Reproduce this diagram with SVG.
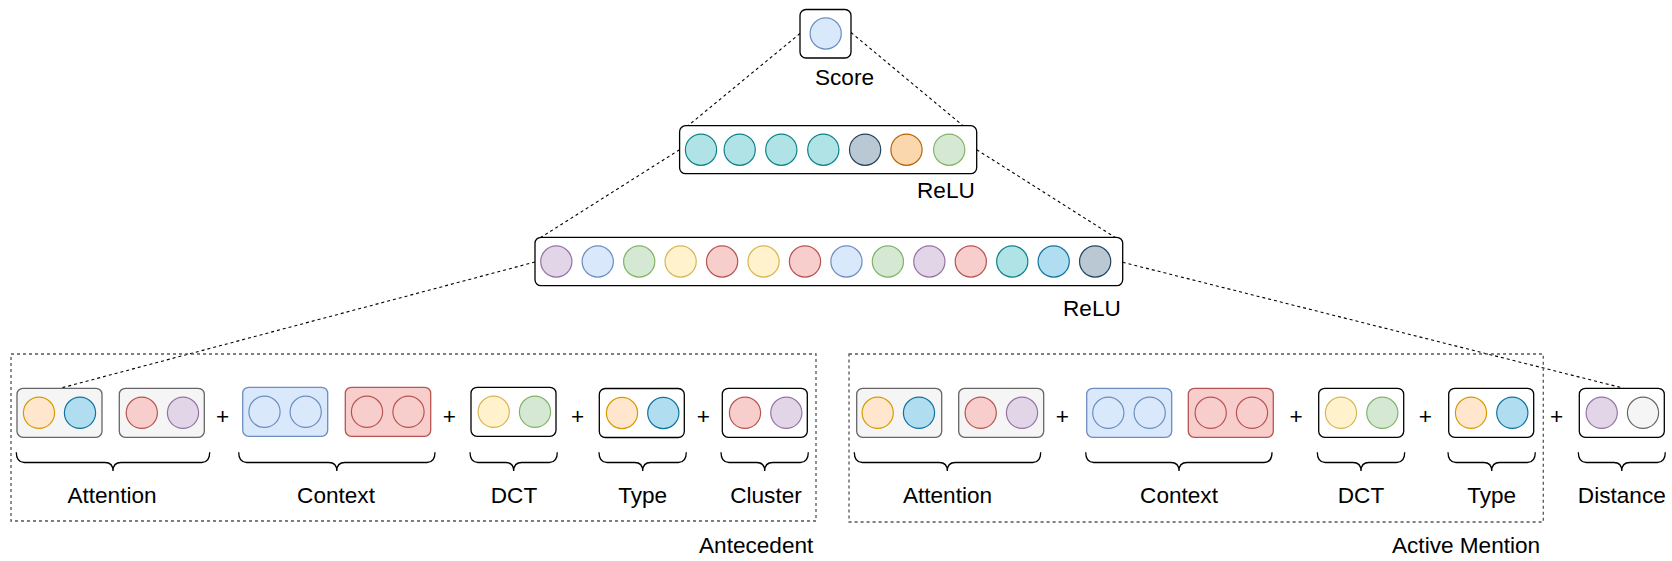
<svg xmlns="http://www.w3.org/2000/svg" width="1672" height="561" viewBox="0 0 1672 561">
<style>
text{font-family:"Liberation Sans",Arial,Helvetica,sans-serif;font-size:22.6px;fill:#000}
.box{fill:#fff;stroke:#000;stroke-width:1.3}
.gbox{fill:#f5f5f5;stroke:#666;stroke-width:1.3}
.bbox{fill:#dae8fc;stroke:#6c8ebf;stroke-width:1.3}
.rbox{fill:#f8cecc;stroke:#b85450;stroke-width:1.3}
.grp{fill:none;stroke:#555;stroke-width:1.3;stroke-dasharray:3 3}
.con{fill:none;stroke:#000;stroke-width:1.1;stroke-dasharray:3 3}
.brace{fill:none;stroke:#000;stroke-width:1.3}
circle{stroke-width:1.2}
.teal{fill:#b0e3e6;stroke:#0e8088}
.slate{fill:#bac8d3;stroke:#23445d}
.orng{fill:#fad7ac;stroke:#b46504}
.lorng{fill:#ffe6cc;stroke:#d79b00}
.grn{fill:#d5e8d4;stroke:#82b366}
.blu{fill:#dae8fc;stroke:#6c8ebf}
.lblu{fill:#b1ddf0;stroke:#10739e}
.ylw{fill:#fff2cc;stroke:#d6b656}
.red{fill:#f8cecc;stroke:#b85450}
.prp{fill:#e1d5e7;stroke:#9673a6}
.gry{fill:#f5f5f5;stroke:#666}
.plus{text-anchor:middle}
.mid{text-anchor:middle}
</style>

<g id="connectors">
<line class="con" x1="800" y1="33.5" x2="688" y2="125.7"/>
<line class="con" x1="851" y1="32.5" x2="963" y2="125.7"/>
<line class="con" x1="679.6" y1="149.7" x2="541" y2="237.3"/>
<line class="con" x1="976.7" y1="149.7" x2="1115" y2="237.3"/>
<line class="con" x1="535" y1="262" x2="60" y2="388.3"/>
<line class="con" x1="1122.7" y1="262.3" x2="1621.7" y2="387.7"/>
</g>

<g id="score">
<rect class="box" x="800" y="9.5" width="51" height="48.5" rx="6"/>
<circle class="blu" cx="825.7" cy="33.5" r="15.6"/>
<text x="815" y="85">Score</text>
</g>

<g id="relu2">
<rect class="box" x="679.6" y="125.7" width="297.1" height="48" rx="6"/>
<circle class="teal" cx="701" cy="149.7" r="15.6"/>
<circle class="teal" cx="739.7" cy="149.7" r="15.6"/>
<circle class="teal" cx="781.3" cy="149.7" r="15.6"/>
<circle class="teal" cx="823.3" cy="149.7" r="15.6"/>
<circle class="slate" cx="865.1" cy="149.7" r="15.6"/>
<circle class="orng" cx="906.5" cy="149.7" r="15.6"/>
<circle class="grn" cx="949.2" cy="149.7" r="15.6"/>
<text x="917" y="198.3">ReLU</text>
</g>

<g id="relu1">
<rect class="box" x="535" y="237.3" width="587.7" height="48.4" rx="6"/>
<circle class="prp" cx="556.3" cy="261.5" r="15.6"/>
<circle class="blu" cx="597.75" cy="261.5" r="15.6"/>
<circle class="grn" cx="639.2" cy="261.5" r="15.6"/>
<circle class="ylw" cx="680.65" cy="261.5" r="15.6"/>
<circle class="red" cx="722.1" cy="261.5" r="15.6"/>
<circle class="ylw" cx="763.55" cy="261.5" r="15.6"/>
<circle class="red" cx="805" cy="261.5" r="15.6"/>
<circle class="blu" cx="846.45" cy="261.5" r="15.6"/>
<circle class="grn" cx="887.9" cy="261.5" r="15.6"/>
<circle class="prp" cx="929.35" cy="261.5" r="15.6"/>
<circle class="red" cx="970.8" cy="261.5" r="15.6"/>
<circle class="teal" cx="1012.25" cy="261.5" r="15.6"/>
<circle class="lblu" cx="1053.7" cy="261.5" r="15.6"/>
<circle class="slate" cx="1095.15" cy="261.5" r="15.6"/>
<text x="1063" y="316">ReLU</text>
</g>

<g id="antecedent">
<rect class="grp" x="11" y="354" width="805" height="167"/>
<text x="699" y="553">Antecedent</text>
</g>

<g id="active-mention">
<rect class="grp" x="849" y="354" width="694.3" height="168"/>
<text x="1392" y="553">Active Mention</text>
</g>

<g id="ant-attention">
<rect class="gbox" x="17" y="388.3" width="85" height="49" rx="6"/>
<circle class="lorng" cx="39" cy="412.8" r="15.6"/>
<circle class="lblu" cx="80" cy="412.8" r="15.6"/>
<rect class="gbox" x="119.3" y="388.3" width="85" height="49" rx="6"/>
<circle class="red" cx="141.8" cy="412.8" r="15.6"/>
<circle class="prp" cx="183" cy="412.8" r="15.6"/>
<path class="brace" d="M16.3,452.3 Q16.3,462.5 24.3,462.5 L105,462.5 Q113,462.5 113,471 Q113,462.5 121,462.5 L201.7,462.5 Q209.7,462.5 209.7,452.3"/>
<text class="mid" x="112" y="503">Attention</text>
</g>
<text class="plus" x="222.7" y="424">+</text>

<g id="ant-context">
<rect class="bbox" x="242.7" y="387.3" width="85" height="49" rx="6"/>
<circle class="blu" cx="264.5" cy="411.8" r="15.6"/>
<circle class="blu" cx="305.7" cy="411.8" r="15.6"/>
<rect class="rbox" x="345.3" y="387.3" width="85.4" height="49" rx="6"/>
<circle class="red" cx="367" cy="411.8" r="15.6"/>
<circle class="red" cx="408.5" cy="411.8" r="15.6"/>
<path class="brace" d="M238.7,452.3 Q238.7,462.5 246.7,462.5 L328.8,462.5 Q336.8,462.5 336.8,471 Q336.8,462.5 344.8,462.5 L427,462.5 Q435,462.5 435,452.3"/>
<text class="mid" x="336" y="503">Context</text>
</g>
<text class="plus" x="449.3" y="424">+</text>

<g id="ant-dct">
<rect class="box" x="471" y="387.3" width="85" height="49" rx="6"/>
<circle class="ylw" cx="493.7" cy="411.8" r="15.6"/>
<circle class="grn" cx="535" cy="411.8" r="15.6"/>
<path class="brace" d="M470,452.3 Q470,462.5 478,462.5 L505.7,462.5 Q513.7,462.5 513.7,471 Q513.7,462.5 521.7,462.5 L549.3,462.5 Q557.3,462.5 557.3,452.3"/>
<text class="mid" x="514" y="503">DCT</text>
</g>
<text class="plus" x="577.7" y="424">+</text>

<g id="ant-type">
<rect class="box" x="599.3" y="388.5" width="85" height="49" rx="6"/>
<circle class="lorng" cx="622" cy="413" r="15.6"/>
<circle class="lblu" cx="663.3" cy="413" r="15.6"/>
<path class="brace" d="M599,452.3 Q599,462.5 607,462.5 L634.7,462.5 Q642.7,462.5 642.7,471 Q642.7,462.5 650.7,462.5 L678.3,462.5 Q686.3,462.5 686.3,452.3"/>
<text class="mid" x="642.7" y="503">Type</text>
</g>
<text class="plus" x="703.3" y="424">+</text>

<g id="ant-cluster">
<rect class="box" x="722.3" y="388.3" width="85" height="49" rx="6"/>
<circle class="red" cx="745" cy="412.8" r="15.6"/>
<circle class="prp" cx="786.3" cy="412.8" r="15.6"/>
<path class="brace" d="M721,452.3 Q721,462.5 729,462.5 L756.7,462.5 Q764.7,462.5 764.7,471 Q764.7,462.5 772.7,462.5 L800.3,462.5 Q808.3,462.5 808.3,452.3"/>
<text class="mid" x="766" y="503">Cluster</text>
</g>

<g id="act-attention">
<rect class="gbox" x="856.7" y="388.3" width="85" height="49" rx="6"/>
<circle class="lorng" cx="877.7" cy="412.8" r="15.6"/>
<circle class="lblu" cx="919" cy="412.8" r="15.6"/>
<rect class="gbox" x="958.7" y="388.3" width="85" height="49" rx="6"/>
<circle class="red" cx="980.7" cy="412.8" r="15.6"/>
<circle class="prp" cx="1022" cy="412.8" r="15.6"/>
<path class="brace" d="M854.3,452.3 Q854.3,462.5 862.3,462.5 L939.3,462.5 Q947.3,462.5 947.3,471 Q947.3,462.5 955.3,462.5 L1032.7,462.5 Q1040.7,462.5 1040.7,452.3"/>
<text class="mid" x="947.5" y="503">Attention</text>
</g>
<text class="plus" x="1062.3" y="424">+</text>

<g id="act-context">
<rect class="bbox" x="1086.7" y="388.3" width="85" height="49" rx="6"/>
<circle class="blu" cx="1108.3" cy="412.8" r="15.6"/>
<circle class="blu" cx="1149.7" cy="412.8" r="15.6"/>
<rect class="rbox" x="1188.3" y="388.3" width="85" height="49" rx="6"/>
<circle class="red" cx="1210.7" cy="412.8" r="15.6"/>
<circle class="red" cx="1252" cy="412.8" r="15.6"/>
<path class="brace" d="M1085.7,452.3 Q1085.7,462.5 1093.7,462.5 L1171,462.5 Q1179,462.5 1179,471 Q1179,462.5 1187,462.5 L1264,462.5 Q1272,462.5 1272,452.3"/>
<text class="mid" x="1179" y="503">Context</text>
</g>
<text class="plus" x="1296" y="424">+</text>

<g id="act-dct">
<rect class="box" x="1318.7" y="388.3" width="85" height="49" rx="6"/>
<circle class="ylw" cx="1341" cy="412.8" r="15.6"/>
<circle class="grn" cx="1382.3" cy="412.8" r="15.6"/>
<path class="brace" d="M1317.3,452.3 Q1317.3,462.5 1325.3,462.5 L1353,462.5 Q1361,462.5 1361,471 Q1361,462.5 1369,462.5 L1396.7,462.5 Q1404.7,462.5 1404.7,452.3"/>
<text class="mid" x="1361" y="503">DCT</text>
</g>
<text class="plus" x="1425.3" y="424">+</text>

<g id="act-type">
<rect class="box" x="1448.7" y="388.3" width="85" height="49" rx="6"/>
<circle class="lorng" cx="1471" cy="412.8" r="15.6"/>
<circle class="lblu" cx="1512.3" cy="412.8" r="15.6"/>
<path class="brace" d="M1448,452.3 Q1448,462.5 1456,462.5 L1483.7,462.5 Q1491.7,462.5 1491.7,471 Q1491.7,462.5 1499.7,462.5 L1527.3,462.5 Q1535.3,462.5 1535.3,452.3"/>
<text class="mid" x="1491.7" y="503">Type</text>
</g>
<text class="plus" x="1556.7" y="424">+</text>

<g id="distance">
<rect class="box" x="1579.3" y="388.3" width="85" height="49" rx="6"/>
<circle class="prp" cx="1601.7" cy="412.8" r="15.6"/>
<circle class="gry" cx="1643" cy="412.8" r="15.6"/>
<path class="brace" d="M1578.3,452.3 Q1578.3,462.5 1586.3,462.5 L1613.8,462.5 Q1621.8,462.5 1621.8,471 Q1621.8,462.5 1629.8,462.5 L1657.3,462.5 Q1665.3,462.5 1665.3,452.3"/>
<text class="mid" x="1621.8" y="503">Distance</text>
</g>
</svg>
